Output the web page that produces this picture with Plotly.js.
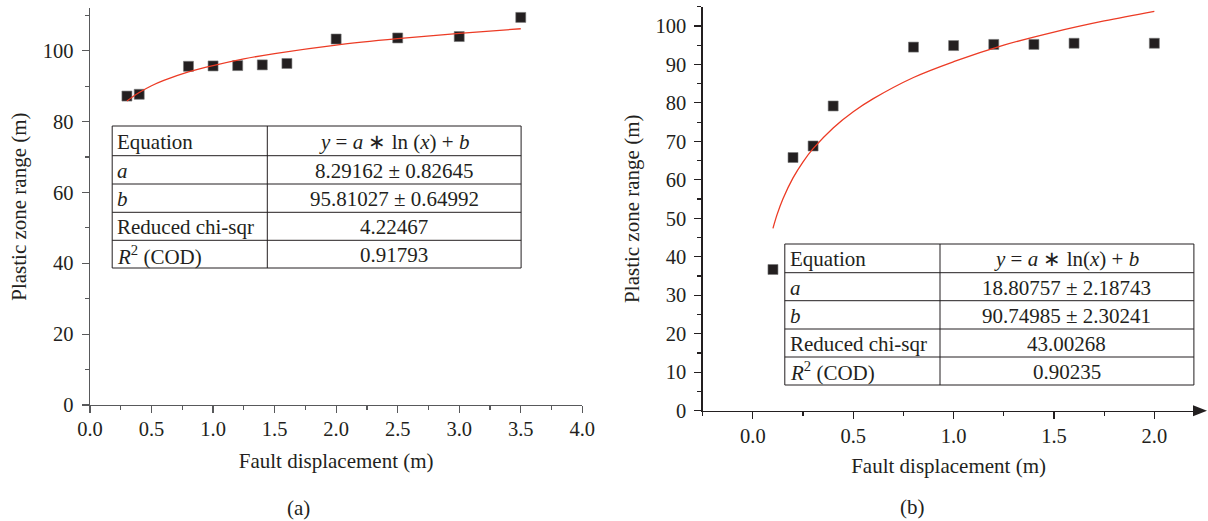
<!DOCTYPE html>
<html><head><meta charset="utf-8">
<script src="https://cdn.plot.ly/plotly-3.0.1.min.js"></script>
<style>html,body{margin:0;padding:0;background:#fff}#chart{width:1208px;height:521px}</style>
</head><body><div id="chart"></div>
<script>
// ---------- Panel (a) ----------
const dispA  = [0.3, 0.4, 0.8, 1.0, 1.2, 1.4, 1.6, 2.0, 2.5, 3.0, 3.5];
const rangeA = [87.2, 87.7, 95.6, 95.7, 95.8, 96.0, 96.4, 103.3, 103.6, 104.0, 109.4];
// fitted curve
const fitXA  = [0.3, 0.35, 0.4, 0.5, 0.6, 0.8, 1.0, 1.25, 1.5, 2.0, 2.5, 3.0, 3.5];
const fitYA  = [85.8, 87.1, 88.2, 90.1, 91.6, 94.0, 95.8, 97.7, 99.2, 101.6, 103.4, 104.9, 106.2];
const xTickValsA = [0, 0.5, 1.0, 1.5, 2.0, 2.5, 3.0, 3.5, 4.0];
const xTickTextA = ['0.0','0.5','1.0','1.5','2.0','2.5','3.0','3.5','4.0'];
const yTickValsA = [0, 20, 40, 60, 80, 100];
const tableLabelsA = ['Equation', '<i>a</i>', '<i>b</i>', 'Reduced chi-sqr', '<i>R</i><sup>2</sup> (COD)'];
const tableValuesA = ['<i>y</i> = <i>a</i> \u2217 ln (<i>x</i>) + <i>b</i>', '8.29162 \u00b1 0.82645', '95.81027 \u00b1 0.64992', '4.22467', '0.91793'];

// ---------- Panel (b) ----------
const dispB  = [0.1, 0.2, 0.3, 0.4, 0.8, 1.0, 1.2, 1.4, 1.6, 2.0];
const rangeB = [36.7, 65.8, 68.8, 79.2, 94.5, 94.9, 95.2, 95.2, 95.5, 95.5];
const fitXB  = [0.1, 0.12, 0.15, 0.2, 0.25, 0.3, 0.4, 0.5, 0.6, 0.8, 1.0, 1.25, 1.5, 1.75, 2.0];
const fitYB  = [47.4, 50.9, 55.1, 60.5, 64.7, 68.1, 73.5, 77.7, 81.1, 86.6, 90.7, 95.0, 98.4, 101.3, 103.8];
const xTickValsB = [0, 0.5, 1.0, 1.5, 2.0];
const xTickTextB = ['0.0','0.5','1.0','1.5','2.0'];
const yTickValsB = [0, 10, 20, 30, 40, 50, 60, 70, 80, 90, 100];
const tableLabelsB = ['Equation', '<i>a</i>', '<i>b</i>', 'Reduced chi-sqr', '<i>R</i><sup>2</sup> (COD)'];
const tableValuesB = ['<i>y</i> = <i>a</i> \u2217 ln(<i>x</i>) + <i>b</i>', '18.80757 \u00b1 2.18743', '90.74985 \u00b1 2.30241', '43.00268', '0.90235'];

const xTitle = 'Fault displacement (m)';
const yTitle = 'Plastic zone range (m)';

// ---------- geometry helpers ----------
const W = 1208, H = 521;
const px = v => v / W;
const py = v => 1 - v / H;
const FONT = '"Liberation Serif", "Times New Roman", serif';
const TXT = '#231f20';
const TICK_SIZE = 20.5, TITLE_SIZE = 21, TABLE_SIZE = 21;

const markerStyle = {symbol: 'square', size: 10, color: TXT, line: {width: 0.6, color: '#777'}};
const fitStyle = {color: '#ec3b25', width: 1.3, shape: 'spline'};

const traces = [
  {x: dispA, y: rangeA, xaxis: 'x', yaxis: 'y', mode: 'markers', type: 'scatter', marker: markerStyle, showlegend: false, cliponaxis: false},
  {x: fitXA, y: fitYA, xaxis: 'x', yaxis: 'y', mode: 'lines', type: 'scatter', line: fitStyle, showlegend: false},
  {x: dispB, y: rangeB, xaxis: 'x2', yaxis: 'y2', mode: 'markers', type: 'scatter', marker: markerStyle, showlegend: false, cliponaxis: false},
  {x: fitXB, y: fitYB, xaxis: 'x2', yaxis: 'y2', mode: 'lines', type: 'scatter', line: fitStyle, showlegend: false}
];

function axisBase(color) {
  return {
    showline: true, linecolor: color, linewidth: 1.3,
    ticks: 'outside', ticklen: 7, tickwidth: 1.2, tickcolor: color,
    showgrid: false, zeroline: false, fixedrange: true,
    tickfont: {family: FONT, size: TICK_SIZE, color: TXT},
    automargin: false
  };
}

const layout = {
  width: W, height: H,
  margin: {l: 0, r: 0, t: 0, b: 0},
  paper_bgcolor: '#fff', plot_bgcolor: 'rgba(0,0,0,0)',
  font: {family: FONT, color: TXT},
  showlegend: false,
  xaxis: Object.assign(axisBase('#58595b'), {
    domain: [px(90), px(582.3)], range: [0, 4], anchor: 'y',
    tickmode: 'array', tickvals: xTickValsA, ticktext: xTickTextA, ticklabelstandoff: -2,
    minor: {ticks: 'outside', dtick: 0.25, tick0: 0, ticklen: 4, tickcolor: '#58595b'},
    title: {text: xTitle, font: {family: FONT, size: TITLE_SIZE, color: TXT}, standoff: 14}
  }),
  yaxis: Object.assign(axisBase('#58595b'), {
    domain: [py(405), py(8.2)], range: [0, 112], anchor: 'x',
    tickmode: 'array', tickvals: yTickValsA, ticklabelstandoff: 4,
    minor: {ticks: 'outside', dtick: 10, tick0: 0, ticklen: 4, tickcolor: '#58595b'},
    title: {text: yTitle, font: {family: FONT, size: TITLE_SIZE, color: TXT}, standoff: 10}
  }),
  xaxis2: Object.assign(axisBase(TXT), {
    domain: [px(702.7), px(1194.5)], range: [-0.25, 2.2], anchor: 'y2',
    tickmode: 'array', tickvals: xTickValsB, ticktext: xTickTextB, ticklabelstandoff: -1,
    minor: {ticks: 'outside', dtick: 0.25, tick0: 0, ticklen: 4, tickcolor: TXT},
    title: {text: xTitle, font: {family: FONT, size: TITLE_SIZE, color: TXT}, standoff: 12}
  }),
  yaxis2: Object.assign(axisBase(TXT), {
    domain: [py(410.7), py(6.7)], range: [0, 105], anchor: 'x2',
    tickmode: 'array', tickvals: yTickValsB, ticklabelstandoff: 4,
    minor: {ticks: 'outside', dtick: 5, tick0: 0, ticklen: 4, tickcolor: TXT},
    title: {text: yTitle, font: {family: FONT, size: TITLE_SIZE, color: TXT}, standoff: 10}
  }),
  shapes: [],
  annotations: []
};

// x-axis arrow head on panel (b)
layout.shapes.push({
  type: 'path', xref: 'paper', yref: 'paper', layer: 'above',
  path: `M ${px(1193)},${py(405.2)} L ${px(1207)},${py(410.7)} L ${px(1193)},${py(416.2)} Z`,
  fillcolor: TXT, line: {width: 0}
});

// parameter tables (drawn as layout decorations)
function addTable(left, mid, right, rowEdges, labels, values) {
  const lineSt = {color: TXT, width: 1};
  layout.shapes.push({type: 'rect', xref: 'paper', yref: 'paper', x0: px(left), x1: px(right), y0: py(rowEdges[0]), y1: py(rowEdges[rowEdges.length-1]), line: lineSt, fillcolor: 'rgba(255,255,255,1)', layer: 'above'});
  layout.shapes.push({type: 'line', xref: 'paper', yref: 'paper', x0: px(mid), x1: px(mid), y0: py(rowEdges[0]), y1: py(rowEdges[rowEdges.length-1]), line: lineSt, layer: 'above'});
  for (let i = 1; i < rowEdges.length - 1; i++) {
    layout.shapes.push({type: 'line', xref: 'paper', yref: 'paper', x0: px(left), x1: px(right), y0: py(rowEdges[i]), y1: py(rowEdges[i]), line: lineSt, layer: 'above'});
  }
  for (let i = 0; i < labels.length; i++) {
    const cy = (rowEdges[i] + rowEdges[i+1]) / 2 + 1;
    layout.annotations.push({xref: 'paper', yref: 'paper', x: px(left + 3), y: py(cy), xanchor: 'left', yanchor: 'middle', text: labels[i], showarrow: false, font: {family: FONT, size: TABLE_SIZE, color: TXT}});
    layout.annotations.push({xref: 'paper', yref: 'paper', x: px((mid + right) / 2), y: py(cy), xanchor: 'center', yanchor: 'middle', text: values[i], showarrow: false, font: {family: FONT, size: TABLE_SIZE, color: TXT}});
  }
}
addTable(112.2, 267.3, 521.1, [126, 155.7, 184, 212.3, 240.3, 268], tableLabelsA, tableValuesA);
addTable(784.8, 940, 1193.9, [244, 272.7, 300.7, 329, 357, 385], tableLabelsB, tableValuesB);

// panel labels
layout.annotations.push({xref: 'paper', yref: 'paper', x: px(298), y: py(508), xanchor: 'center', yanchor: 'middle', text: '(a)', showarrow: false, font: {family: FONT, size: TITLE_SIZE, color: TXT}});
layout.annotations.push({xref: 'paper', yref: 'paper', x: px(912), y: py(507), xanchor: 'center', yanchor: 'middle', text: '(b)', showarrow: false, font: {family: FONT, size: TITLE_SIZE, color: TXT}});

Plotly.newPlot('chart', traces, layout, {displayModeBar: false, staticPlot: true});
</script>
</body></html>
